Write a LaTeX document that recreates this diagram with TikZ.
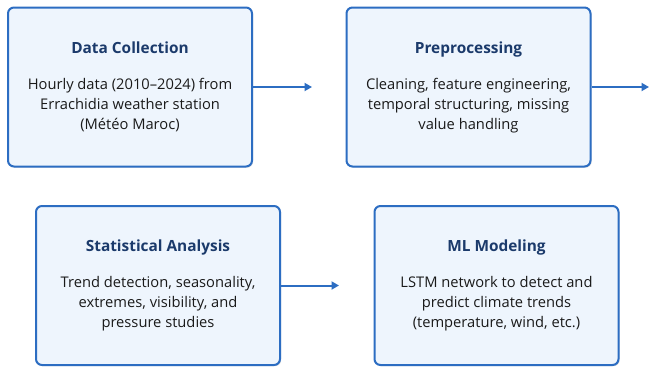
\documentclass[tikz,border=0pt]{standalone}
\usepackage{fontspec}
\setmainfont{Open Sans}
\usetikzlibrary{arrows.meta,shadows}
\definecolor{bordc}{HTML}{2C6DC2}
\definecolor{fillc}{HTML}{EEF5FD}
\definecolor{titc}{HTML}{1B3A6B}
\definecolor{txtc}{HTML}{1A1A1A}
\tikzset{
  stepbox/.style={draw=bordc, line width=2pt, fill=fillc, rounded corners=6pt,
    minimum width=244pt, minimum height=159pt, align=center, text=txtc,
    font=\fontsize{14.7}{20}\selectfont,
    drop shadow={opacity=0.12, shadow xshift=1.2pt, shadow yshift=-1.2pt, fill=black}},
  arr/.style={draw=bordc, line width=2pt, -{Triangle[length=7.5pt,width=8pt]}}
}
\newcommand{\ttl}[1]{{\fontsize{15.4}{20}\selectfont\bfseries\color{titc}#1}\\[16pt]}
\begin{document}
\begin{tikzpicture}[x=1pt,y=-1pt]
\useasboundingbox[fill=white] (0,0) rectangle (649,367);
\node[stepbox] (b1) at (130,87) {\ttl{Data Collection}Hourly data (2010--2024) from\\Errachidia weather station\\(Météo Maroc)};
\node[stepbox] (b2) at (468.5,87) {\ttl{Preprocessing}Cleaning, feature engineering,\\temporal structuring, missing\\value handling};
\node[stepbox] (b3) at (158,285.5) {\ttl{Statistical Analysis}Trend detection, seasonality,\\extremes, visibility, and\\pressure studies};
\node[stepbox] (b4) at (496.5,285.5) {\ttl{ML Modeling}LSTM network to detect and\\predict climate trends\\(temperature, wind, etc.)};
\coordinate (a1) at (312,87);
\coordinate (a2) at (649,87);
\coordinate (a3) at (339,285.5);
\draw[arr] (b1.east) -- (a1);
\draw[arr] (b2.east) -- (a2);
\draw[arr] (b3.east) -- (a3);
\end{tikzpicture}
\end{document}
